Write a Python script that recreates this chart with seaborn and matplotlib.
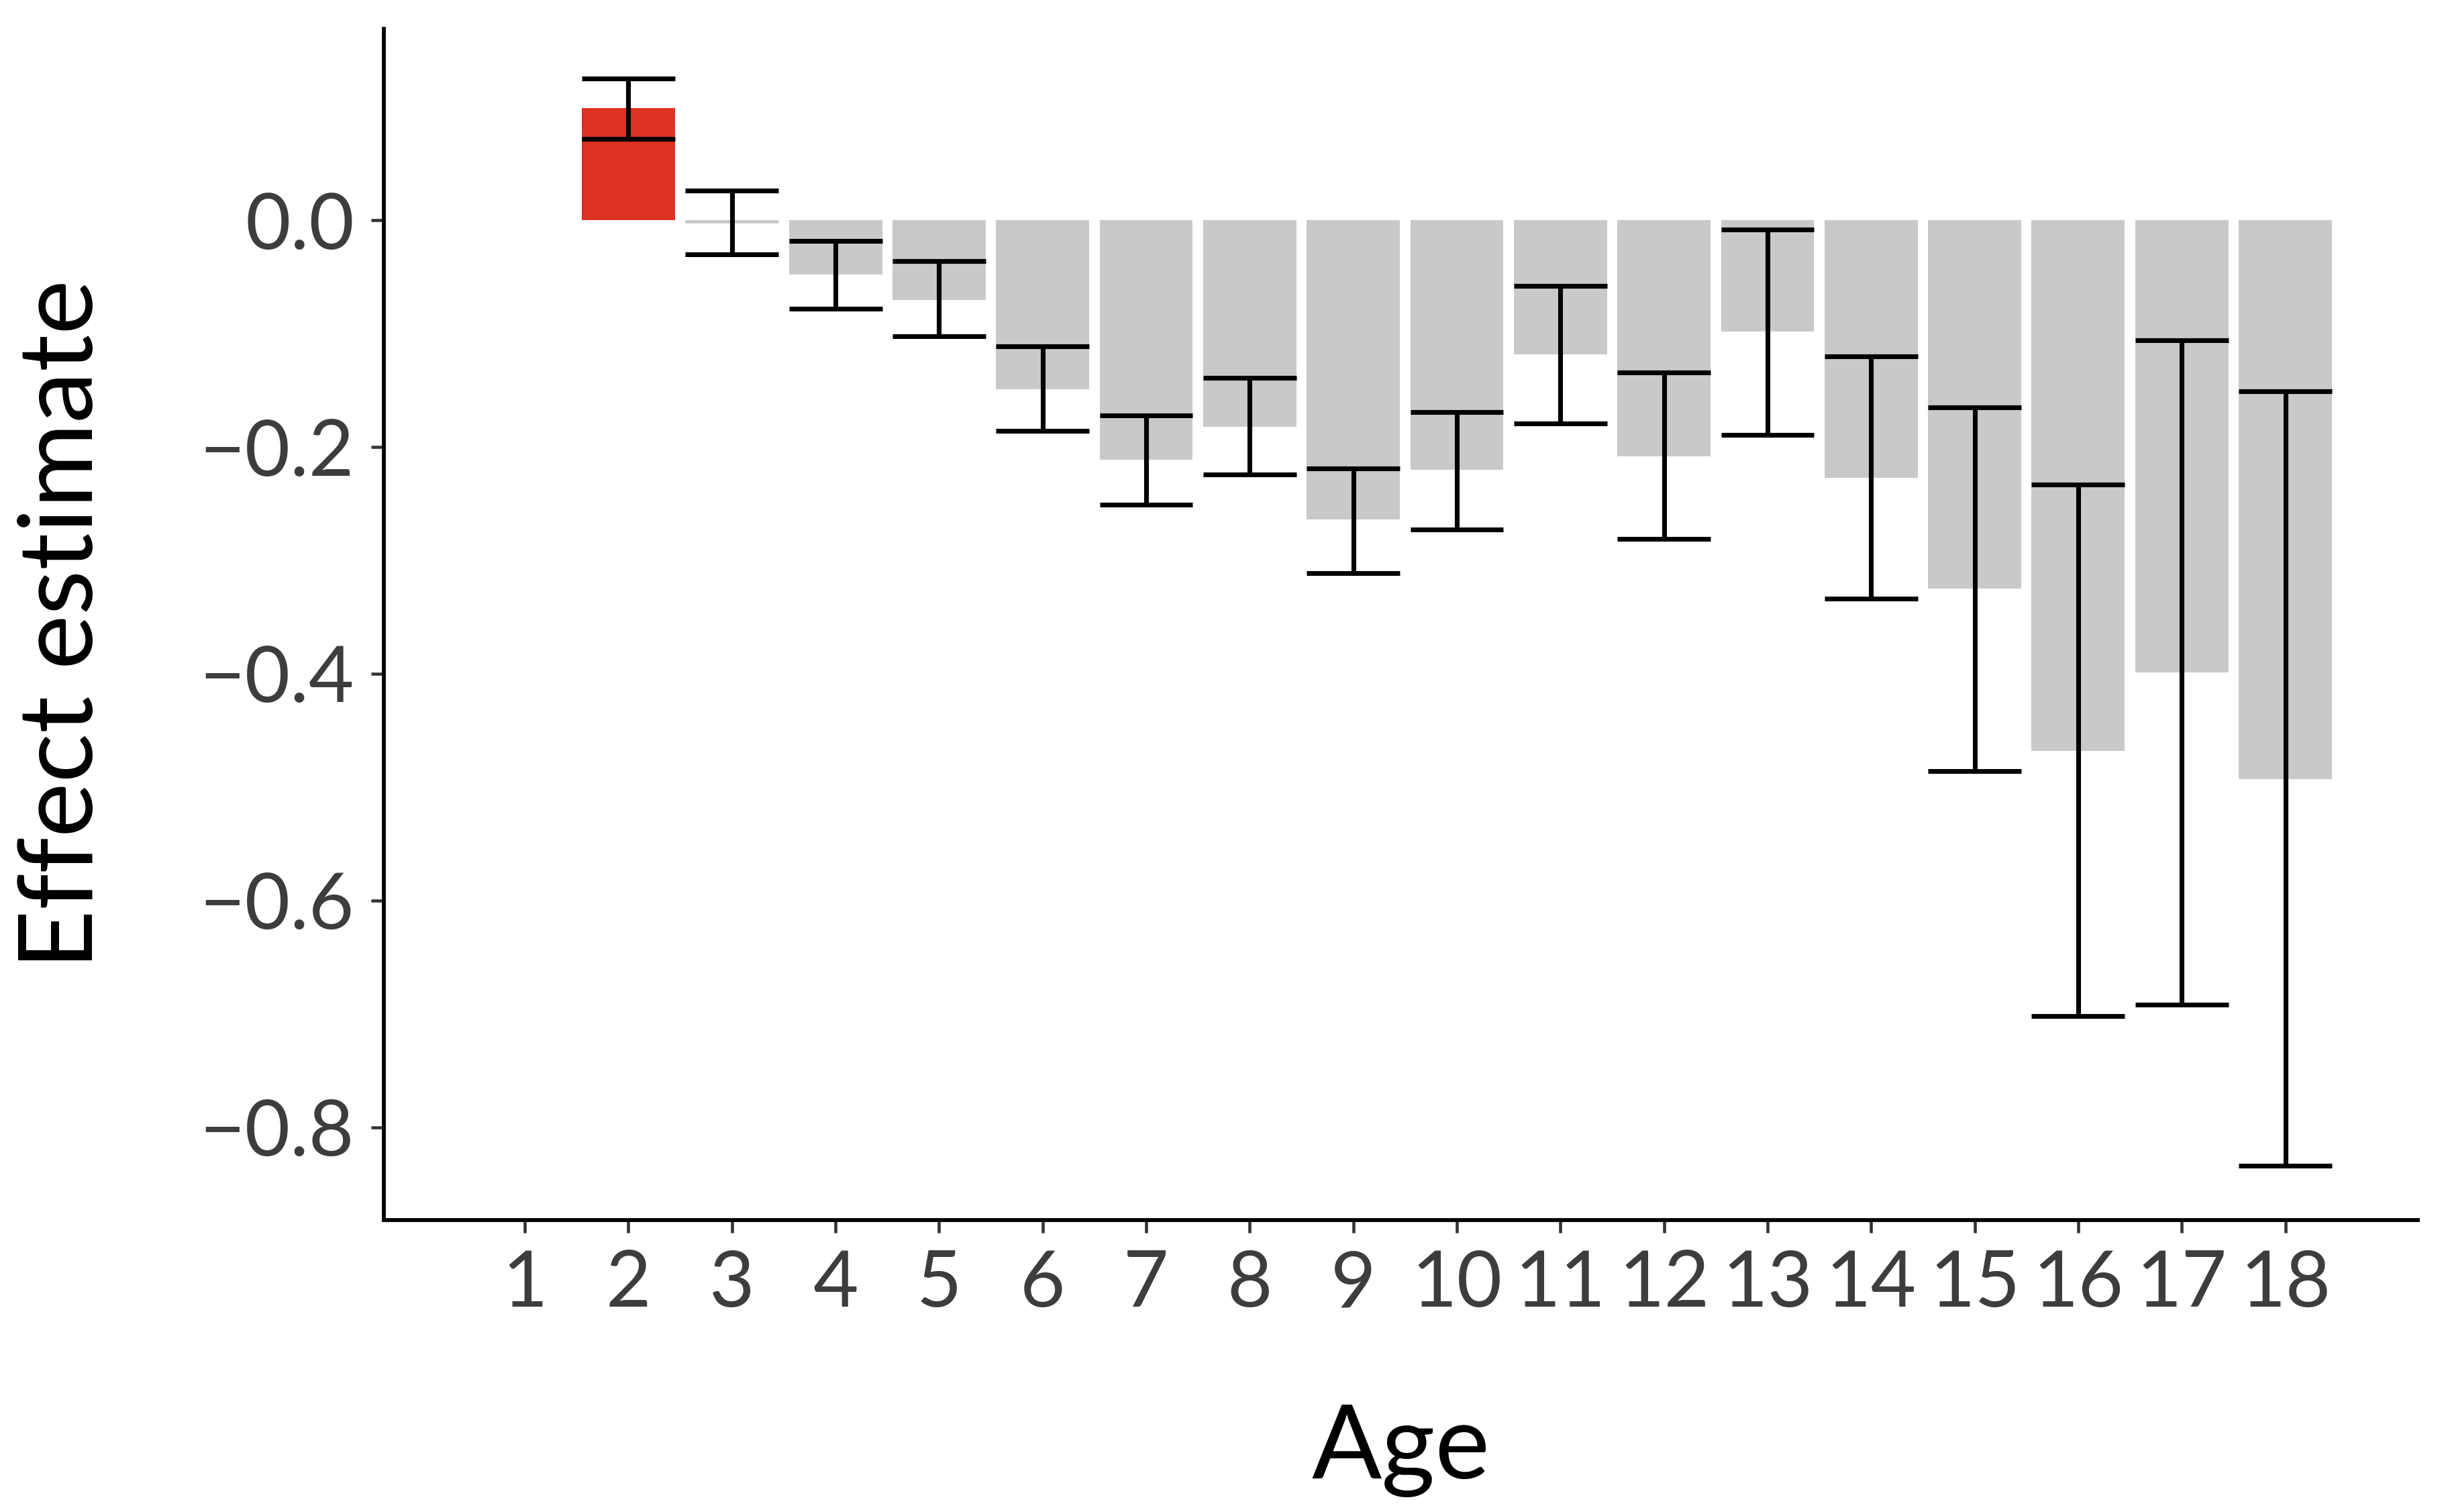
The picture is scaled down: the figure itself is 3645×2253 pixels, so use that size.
"""
Effect estimate by age
"""

import matplotlib
matplotlib.use('Agg')
import matplotlib.pyplot as plt
import seaborn as sns
import numpy as np
import pandas as pd

# Values
age = [2, 3, 4, 5, 6, 7, 8, 9, 10, 11, 12, 13, 14, 15, 16, 17, 18]
estimate = [0.099, -0.003, -0.048, -0.070, -0.149, -0.211, -0.182, -0.264, -0.220,
            -0.118, -0.208, -0.098, -0.227, -0.325, -0.468, -0.399, -0.493]
ci_low = [0.072, -0.030, -0.078, -0.102, -0.186, -0.251, -0.224, -0.311, -0.273,
          -0.179, -0.281, -0.189, -0.334, -0.486, -0.702, -0.692, -0.834]
ci_high = [0.125, 0.026, -0.018, -0.036, -0.111, -0.172, -0.139, -0.219, -0.169,
           -0.058, -0.134, -0.008, -0.120, -0.165, -0.233, -0.106, -0.151]
age_ticks = list(range(1, 19))
highlight_age = 2

df = pd.DataFrame({'Age': age, 'Estimate': estimate, 'Low': ci_low, 'High': ci_high})
palette = {a: ('#DE3224' if a == highlight_age else '#C9C9C9') for a in age}

sns.set_style('white')
plt.rcParams['font.family'] = ['Lato', 'DejaVu Sans']

fig = plt.figure(figsize=(12.15, 7.51), dpi=300)
ax = fig.add_axes([0.157, 0.193, 0.8315, 0.788])

sns.barplot(data=df, x='Age', y='Estimate', hue='Age', palette=palette,
            native_scale=True, width=0.9, legend=False, ax=ax, saturation=1,
            errorbar=None, linewidth=0)

# Error bars: stem plus caps the width of the bar
ax.vlines(df['Age'], df['Low'], df['High'], color='black', linewidth=1.7, zorder=3)
ax.hlines(df['Low'], df['Age'] - 0.45, df['Age'] + 0.45, color='black', linewidth=1.7, zorder=3)
ax.hlines(df['High'], df['Age'] - 0.45, df['Age'] + 0.45, color='black', linewidth=1.7, zorder=3)

ax.set_xlim(-0.36, 19.28)
ax.set_ylim(-0.882, 0.169)
ax.set_xticks(age_ticks)
ax.set_xticklabels([str(a) for a in age_ticks])
ax.set_yticks([0.0, -0.2, -0.4, -0.6, -0.8])
ax.set_yticklabels(['0.0', '\u22120.2', '\u22120.4', '\u22120.6', '\u22120.8'])

sns.despine(ax=ax)
for side in ['left', 'bottom']:
    ax.spines[side].set_color('black')
    ax.spines[side].set_linewidth(1.4)

ax.tick_params(axis='both', which='both', length=4.6, width=1.1, color='#333333',
               labelsize=28, labelcolor='#3d3d3d', direction='out', pad=6,
               left=True, bottom=True)

ax.set_xlabel('Age', fontsize=37, color='black', labelpad=30)
ax.set_ylabel('Effect estimate', fontsize=37, color='black', labelpad=32)

plt.savefig('out.png', dpi=300)
